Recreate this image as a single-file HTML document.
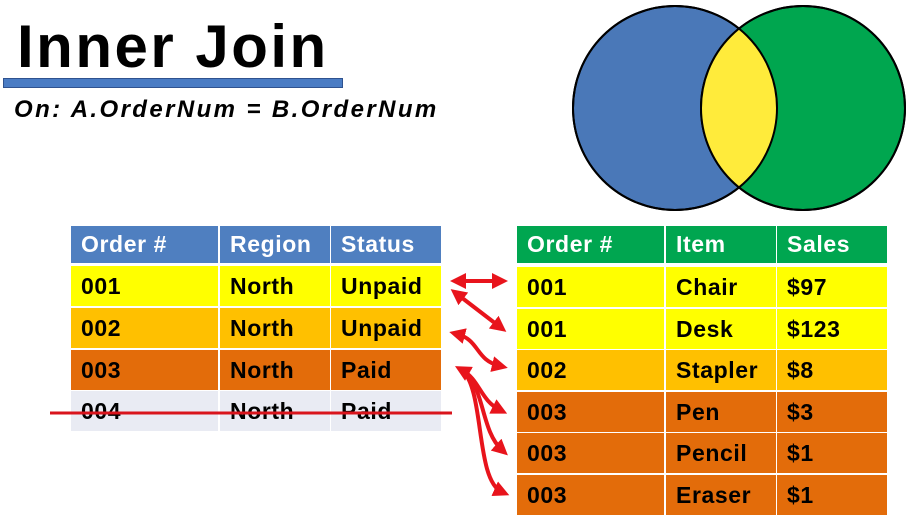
<!DOCTYPE html>
<html><head><meta charset="utf-8"><style>
body{margin:0;width:909px;height:512px;overflow:hidden;background:#fff;font-family:"Liberation Sans",sans-serif;position:relative}
.t{position:absolute;font-weight:bold}
.c{position:absolute;font-weight:bold;font-size:23px;letter-spacing:0.6px;box-sizing:border-box;padding-left:10px;line-height:42px}
</style></head><body>
<div class="t" style="left:17px;top:14px;font-size:60px;line-height:66px;letter-spacing:2.5px">Inner Join</div>
<div style="position:absolute;left:3px;top:78px;width:338px;height:8px;background:#4a7cc4;border:1px solid #2f528f"></div>
<div class="t" style="left:14px;top:96px;font-size:24px;font-style:italic;line-height:28px;letter-spacing:2.4px">On: A.OrderNum = B.OrderNum</div>
<svg width="909" height="512" style="position:absolute;left:0;top:0">
<circle cx="675" cy="108" r="102" fill="#4a78b8" stroke="#000" stroke-width="2"/>
<circle cx="803" cy="108" r="102" fill="#00a64f" stroke="#000" stroke-width="2"/>
<clipPath id="ca"><circle cx="675" cy="108" r="102"/></clipPath>
<circle cx="803" cy="108" r="102" fill="#ffeb3b" clip-path="url(#ca)"/>
<circle cx="675" cy="108" r="102" fill="none" stroke="#000" stroke-width="2"/>
<circle cx="803" cy="108" r="102" fill="none" stroke="#000" stroke-width="2"/>
</svg>
<div id="tables"></div>
<svg width="909" height="512" style="position:absolute;left:0;top:0">
<defs><marker id="ah" markerWidth="4" markerHeight="4" refX="2" refY="2" orient="auto-start-reverse" markerUnits="strokeWidth"><path d="M0,0L4,2L0,4z" fill="#e8141c"/></marker></defs>
<g fill="none" stroke="#e8141c" stroke-width="4">
<path d="M458,281L500,281" marker-start="url(#ah)" marker-end="url(#ah)"/>
<path d="M457,294L500,327" marker-start="url(#ah)" marker-end="url(#ah)"/>
<path d="M457,334C480,340 475,360 500,366" marker-start="url(#ah)" marker-end="url(#ah)"/>
<path d="M462,370C480,380 480,400 500,410" marker-start="url(#ah)" marker-end="url(#ah)"/>
<path d="M462,370C485,385 480,430 502,450" marker-end="url(#ah)"/>
<path d="M462,370C485,390 475,480 502,492" marker-end="url(#ah)"/>
</g>
<line x1="50" y1="413" x2="452" y2="413" stroke="#d9141c" stroke-width="3"/>
</svg>
<script>
const cols=[[0,147],[149,110],[260,110]];
function table(x,name,head,hc,rows,tops){
  const mk=(y,h,bg,txt,color,nm)=>{cols.forEach((c,i)=>{const d=document.createElement('div');d.className='c';
    
    
    d.style.cssText=`left:${x+c[0]}px;top:${y}px;width:${c[1]}px;height:${h}px;background:${bg};color:${color};line-height:${h}px`;d.textContent=txt[i];document.getElementById('tables').appendChild(d);});};
  mk(226,37,hc,head,'#fff',name+'-header');
  rows.forEach((r,i)=>mk(tops[i],40,r[3],r,'#000',name+'-row'));
}
const Y='#ffff00',O='#ffc000',D='#e36c0a',G='#e9ebf3';
table(71,'orders',['Order #','Region','Status'],'#4f7fc0',[['001','North','Unpaid',Y],['002','North','Unpaid',O],['003','North','Paid',D],['004','North','Paid',G]],[266,308,350,391]);
table(517,'items',['Order #','Item','Sales'],'#00a650',[['001','Chair','$97',Y],['001','Desk','$123',Y],['002','Stapler','$8',O],['003','Pen','$3',D],['003','Pencil','$1',D],['003','Eraser','$1',D]],[267,309,350,392,433,475]);
</script>
</body></html>
